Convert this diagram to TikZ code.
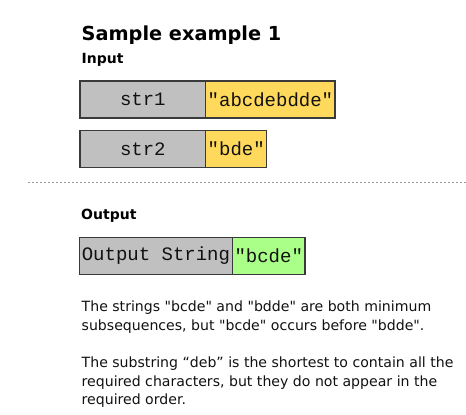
\documentclass[tikz,border=0pt]{standalone}
\usepackage{fontspec}
\setmainfont{DejaVu Sans}[Ligatures=TeXOff]
\newfontfamily\monof{Liberation Mono}
\definecolor{keygray}{HTML}{C0C0C0}
\definecolor{valyellow}{HTML}{FFD95C}
\definecolor{valgreen}{HTML}{AAFF88}
\definecolor{edge}{HTML}{3A3A3A}
\definecolor{txt}{HTML}{111111}
\begin{document}
\begin{tikzpicture}[x=1pt,y=-1pt,
  cell/.style={draw=edge, line width=1.3pt, minimum height=37pt, outer sep=0pt,
    inner xsep=2pt, inner ysep=0pt, anchor=north west, text=txt,
    font=\monof\fontsize{19}{21}\selectfont},
  keybox/.style={cell, fill=keygray, minimum width=125.7pt},
  valbox/.style={cell, fill=valyellow},
  outbox/.style={cell, fill=valgreen},
  title/.style={anchor=base west, inner sep=0pt, font=\bfseries\fontsize{19.3}{22}\selectfont},
  heading/.style={anchor=base west, inner sep=0pt, font=\bfseries\fontsize{14}{16}\selectfont},
  body/.style={anchor=base west, inner sep=0pt, text=txt, font=\fontsize{14.1}{16}\selectfont}]
\useasboundingbox (0,0) rectangle (466,415);
\node[title] (t) at (81.5,40) {Sample example 1};
\node[heading] (in) at (81.5,63.3) {Input};
\node[keybox] (k1) at (80,81) {str1};
\node[valbox] (v1) at (k1.north east) {"abcdebdde"};
\node[keybox] (k2) at (80,130.5) {str2};
\node[valbox] (v2) at (k2.north east) {"bde"};
\coordinate (dl) at (28,182.3);
\coordinate (dr) at (466,182.3);
\draw[gray!80, line width=1.3pt, dash pattern=on 2pt off 2pt] (dl) -- (dr);
\node[heading] (out) at (81,219) {Output};
\node[keybox, minimum width=0pt, inner xsep=2.5pt] (k3) at (79.3,237.3) {Output String};
\node[outbox] (v3) at (k3.north east) {"bcde"};
\node[body] (p1) at (81.5,311.7) {The strings "bcde" and "bdde" are both minimum};
\node[body] (p2) at (81.5,330) {subsequences, but "bcde" occurs before "bdde".};
\node[body] (p3) at (81.5,367) {The substring “deb” is the shortest to contain all the};
\node[body] (p4) at (81.5,386) {required characters, but they do not appear in the};
\node[body] (p5) at (81.5,404) {required order.};
\end{tikzpicture}
\end{document}
